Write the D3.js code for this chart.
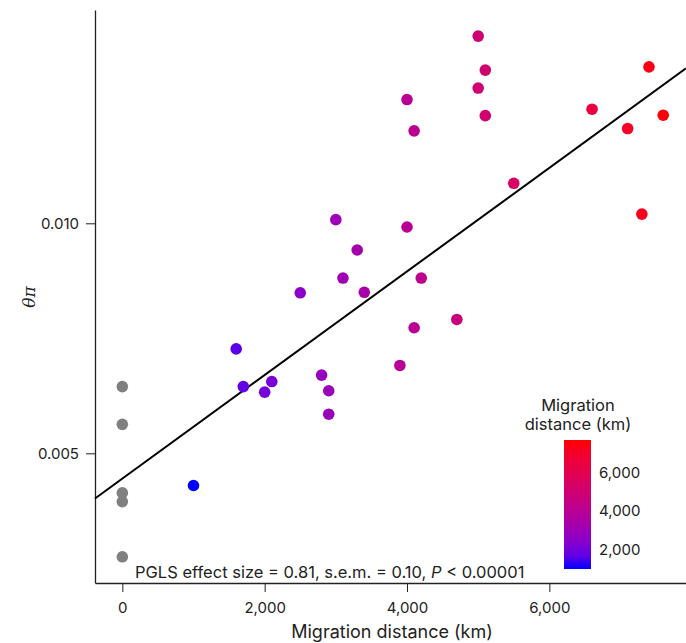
<!DOCTYPE html>
<html>
<head>
<meta charset="utf-8">
<script src="https://cdn.jsdelivr.net/npm/d3@7"></script>
<style>
  body { margin: 0; background: #fff; }
  svg { display: block; font-family: Inter, "Noto Sans", sans-serif; }
  .axis path, .axis line { stroke: #222; }
  .axis text { font-size: 15px; fill: #222; font-family: Inter, "Noto Sans", sans-serif; }
</style>
</head>
<body>
<svg id="chart" width="686" height="643"></svg>
<script>
// migration distance (km) per species, and nucleotide diversity
var distKm = [0, 0, 0, 0, 0, 1000, 1600, 1700, 2100, 2000, 2500, 3000, 3300, 3100, 3400,
  2800, 2900, 2900, 4000, 4200, 4100, 3900, 5000, 5100, 5000, 5100, 4000, 4100,
  5500, 4700, 7400, 6600, 7600, 7100, 7300];
var thetaPi = [0.00645, 0.00563, 0.00414, 0.00395, 0.00275, 0.00430, 0.00727, 0.00645,
  0.00656, 0.00633, 0.00849, 0.01008, 0.00942, 0.00881, 0.00850, 0.00670, 0.00636,
  0.00585, 0.00992, 0.00881, 0.00773, 0.00691, 0.01407, 0.01333, 0.01294, 0.01234,
  0.01269, 0.01201, 0.01087, 0.00791, 0.01340, 0.01248, 0.01235, 0.01206, 0.01020];

var yTicks = [0.005, 0.010];
var xTicks = [0, 2000, 4000, 6000];
var colorTicks = [2000, 4000, 6000];

// PGLS fit line
var fitIntercept = 0.00445;
var fitSlope = 1.126e-6;

var svg = d3.select('#chart');
var plotLeft = 95, plotRight = 686, plotTop = 10, plotBottom = 583;

var x = d3.scaleLinear().domain([-384, 7920]).range([plotLeft, plotRight]);
var y = d3.scaleLinear().domain([0.002181, 0.014637]).range([plotBottom, plotTop]);
var colorDomain = [1000, 7700];
var color = d3.scaleLinear().domain(colorDomain)
  .range(['#0000ff', '#ff0000']).interpolate(d3.interpolateLab);

var fmt = d3.format(',');

svg.append('g')
  .attr('class', 'axis')
  .attr('transform', 'translate(0,' + plotBottom + ')')
  .call(d3.axisBottom(x).tickValues(xTicks).tickFormat(fmt).tickSize(9).tickSizeOuter(0).tickPadding(10))
  .call(function (g) { g.select('.domain').attr('stroke-width', 1.3); });

svg.append('g')
  .attr('class', 'axis')
  .attr('transform', 'translate(' + plotLeft + ',0)')
  .call(d3.axisLeft(y).tickValues(yTicks).tickFormat(d3.format('.3f')).tickSize(9).tickSizeOuter(0).tickPadding(7))
  .call(function (g) { g.select('.domain').attr('stroke-width', 1.3); });

svg.append('text')
  .attr('x', 392)
  .attr('y', 638)
  .attr('text-anchor', 'middle')
  .style('font-size', '18px')
  .attr('fill', '#222')
  .text('Migration distance (km)');

svg.append('text')
  .attr('transform', 'translate(35,297) rotate(-90)')
  .attr('text-anchor', 'middle')
  .style('font-family', '"DejaVu Serif", serif')
  .style('font-style', 'italic')
  .style('font-size', '17px')
  .attr('fill', '#222')
  .text('θπ');

// fit line across the whole x domain
var xd = x.domain();
svg.append('line')
  .attr('x1', x(xd[0])).attr('y1', y(fitIntercept + fitSlope * xd[0]))
  .attr('x2', x(xd[1])).attr('y2', y(fitIntercept + fitSlope * xd[1]))
  .attr('stroke', '#000')
  .attr('stroke-width', 2);

svg.append('g')
  .selectAll('circle')
  .data(d3.range(distKm.length))
  .join('circle')
  .attr('cx', function (i) { return x(distKm[i]); })
  .attr('cy', function (i) { return y(thetaPi[i]); })
  .attr('r', 5.8)
  .attr('fill', function (i) { return distKm[i] === 0 ? '#808080' : color(distKm[i]); });

var legend = svg.append('g');

legend.append('text')
  .attr('x', 578).attr('y', 411)
  .attr('text-anchor', 'middle')
  .style('font-size', '16.5px').attr('fill', '#222')
  .text('Migration');
legend.append('text')
  .attr('x', 578).attr('y', 430)
  .attr('text-anchor', 'middle')
  .style('font-size', '16.5px').attr('fill', '#222')
  .text('distance (km)');

var barTop = 440, barBottom = 569, barX = 564, barW = 27;
var grad = svg.append('defs').append('linearGradient')
  .attr('id', 'cbar').attr('x1', 0).attr('x2', 0).attr('y1', 1).attr('y2', 0);
d3.range(0, 1.0001, 0.1).forEach(function (t) {
  grad.append('stop')
    .attr('offset', t)
    .attr('stop-color', color(colorDomain[0] + t * (colorDomain[1] - colorDomain[0])));
});
legend.append('rect')
  .attr('x', barX).attr('y', barTop)
  .attr('width', barW).attr('height', barBottom - barTop)
  .attr('fill', 'url(#cbar)');

var cScale = d3.scaleLinear().domain(colorDomain).range([barBottom, barTop]);
legend.append('g')
  .selectAll('text')
  .data(colorTicks)
  .join('text')
  .attr('x', barX + barW + 8)
  .attr('y', function (d) { return cScale(d); })
  .attr('dy', '0.35em')
  .style('font-size', '15px').attr('fill', '#222')
  .text(fmt);

var note = svg.append('text')
  .attr('x', 135).attr('y', 578)
  .style('font-size', '16.5px').attr('fill', '#222');
note.append('tspan').text('PGLS effect size = 0.81, s.e.m. = 0.10, ');
note.append('tspan').style('font-style', 'italic').text('P');
note.append('tspan').text(' < 0.00001');
</script>
</body>
</html>
